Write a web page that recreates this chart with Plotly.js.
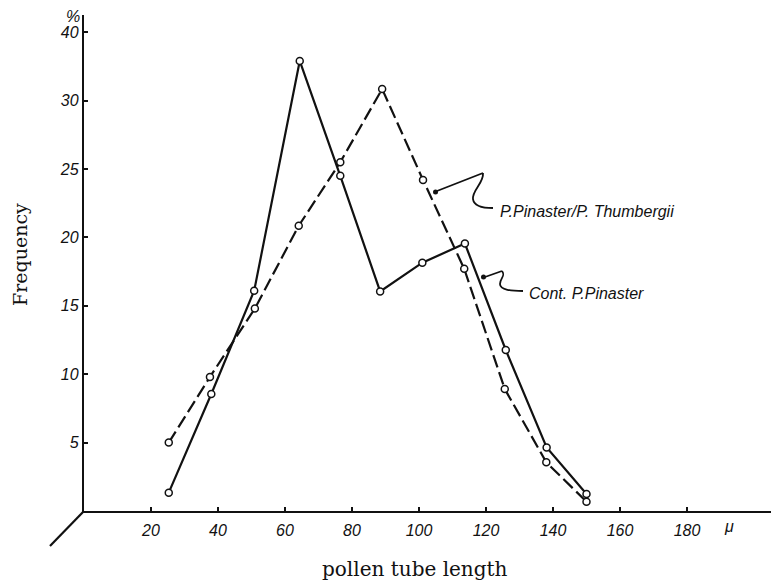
<!DOCTYPE html>
<html>
<head>
<meta charset="utf-8">
<script src="https://cdn.plot.ly/plotly-3.0.1.min.js"></script>
<style>
html,body{margin:0;padding:0;background:#fff;}
#chart{width:771px;height:582px;}
</style>
</head>
<body>
<div id="chart"></div>
<script>
// ---- data ----
const contX = [25.3, 38, 50.8, 64.4, 76.5, 88.4, 101, 113.7, 125.9, 138.1, 150.0];
const contY = [1.34, 8.55, 16.1, 32.9, 24.5, 16.05, 18.15, 19.55, 11.77, 4.65, 1.24];
const hybX  = [25.3, 37.6, 51, 64.1, 76.5, 89.0, 101.2, 113.5, 125.6, 138, 150.0];
const hybY  = [5.0, 9.8, 14.8, 20.85, 25.5, 30.85, 24.2, 17.7, 8.92, 3.56, 0.68];
const xTickVals = [20, 40, 60, 80, 100, 120, 140, 160, 180];
const xTickText = ['20', '40', '60', '80', '100', '120', '140', '160', '180'];
const yTickVals = [5, 10, 15, 20, 25, 30, 35];
const yTickText = ['5', '10', '15', '20', '25', '30', '40'];
const contName = 'Cont. P.Pinaster';
const hybName = 'P.Pinaster/P. Thumbergii';
const xTitle = 'pollen tube length';
const yTitle = 'Frequency';

// ---- layout geometry (pixels) ----
const W = 771, H = 582;
const L = 84, R = 0, T = 15, B = 71;
const PW = W - L - R, PH = H - T - B;
const px = x => (x - L) / PW;          // pixel x -> paper
const py = y => (H - B - y) / PH;      // pixel y -> paper
const path = pts => pts.map((p, i) => (i === 0 ? 'M' : 'L') + px(p[0]).toFixed(4) + ',' + py(p[1]).toFixed(4)).join(' ');
const curve = (start, segs) => {
  let s = 'M' + px(start[0]).toFixed(4) + ',' + py(start[1]).toFixed(4);
  segs.forEach(c => {
    s += ' C' + c.map(p => px(p[0]).toFixed(4) + ',' + py(p[1]).toFixed(4)).join(' ');
  });
  return s;
};

const tickFont = {family: 'Liberation Sans Narrow, Liberation Sans, sans-serif', size: 16, color: '#111', style: 'italic'};
const noteFont = {family: 'Liberation Sans Narrow, Liberation Sans, sans-serif', size: 16, color: '#111', style: 'italic'};
const titleFamily = 'DejaVu Serif, Liberation Serif, serif';

const marker = {symbol: 'circle', size: 7, color: '#fff', line: {color: '#111', width: 1.5}};

const traces = [
  {
    x: contX, y: contY, name: contName, type: 'scatter', mode: 'lines+markers',
    line: {color: '#111', width: 2.2}, marker: marker, cliponaxis: false
  },
  {
    x: hybX, y: hybY, name: hybName, type: 'scatter', mode: 'lines+markers',
    line: {color: '#111', width: 2.2, dash: '13px,5px'}, marker: marker, cliponaxis: false
  }
];

const shapes = [
  // perspective stub of the axes
  {type: 'path', xref: 'paper', yref: 'paper', path: path([[84, 511], [50, 546]]),
   line: {color: '#111', width: 2.2}},
  // leader for hybrid
  {type: 'path', xref: 'paper', yref: 'paper',
   path: curve([493, 208], [[[484, 208], [474, 206], [473, 199]], [[472, 190], [484, 183], [483, 173]]]) + ' ' + path([[483, 173], [437, 191]]),
   line: {color: '#111', width: 1.8}},
  {type: 'circle', xref: 'paper', yref: 'paper', x0: px(433), x1: px(438), y0: py(194.5), y1: py(189.5),
   fillcolor: '#111', line: {color: '#111', width: 0}},
  // leader for control
  {type: 'path', xref: 'paper', yref: 'paper',
   path: curve([523, 291], [[[512, 291], [500, 290], [500, 284]], [[500, 278], [506, 276], [502, 271]]]) + ' ' + path([[502, 271], [485, 277]]),
   line: {color: '#111', width: 1.8}},
  {type: 'circle', xref: 'paper', yref: 'paper', x0: px(481), x1: px(486), y0: py(279.5), y1: py(274.5),
   fillcolor: '#111', line: {color: '#111', width: 0}}
];

const annotations = [
  {xref: 'paper', yref: 'paper', x: px(498), y: py(211), xanchor: 'left', yanchor: 'middle',
   text: hybName, showarrow: false, font: noteFont},
  {xref: 'paper', yref: 'paper', x: px(527), y: py(293), xanchor: 'left', yanchor: 'middle',
   text: contName, showarrow: false, font: noteFont},
  {xref: 'paper', yref: 'paper', x: px(729), y: py(526), xanchor: 'center', yanchor: 'middle',
   text: 'μ', showarrow: false, font: noteFont},
  {xref: 'paper', yref: 'paper', x: px(73), y: py(16), xanchor: 'center', yanchor: 'middle',
   text: '%', showarrow: false, font: {family: tickFont.family, size: 16, color: '#111', style: 'italic'}},
  // axis titles
  {xref: 'paper', yref: 'paper', x: px(415), y: py(569), xanchor: 'center', yanchor: 'middle',
   text: xTitle, showarrow: false, font: {family: titleFamily, size: 20, color: '#111'}},
  {xref: 'paper', yref: 'paper', x: px(20), y: py(255), xanchor: 'center', yanchor: 'middle',
   text: yTitle, textangle: -90, showarrow: false, font: {family: titleFamily, size: 19, color: '#111'}}
];

const layout = {
  width: W, height: H,
  margin: {l: L, r: R, t: T, b: B, pad: 0},
  paper_bgcolor: '#fff', plot_bgcolor: '#fff',
  showlegend: false,
  xaxis: {
    range: [0, PW / 3.35], autorange: false,
    showgrid: false, zeroline: false,
    showline: true, linecolor: '#111', linewidth: 2.2,
    ticks: 'inside', ticklen: 4, tickwidth: 2, tickcolor: '#111',
    tickvals: xTickVals, ticktext: xTickText, tickfont: tickFont,
    ticklabelstandoff: 4,
    automargin: false
  },
  yaxis: {
    range: [0, PH / 13.68], autorange: false,
    showgrid: false, zeroline: false,
    showline: true, linecolor: '#111', linewidth: 2.2,
    ticks: 'inside', ticklen: 4, tickwidth: 2, tickcolor: '#111',
    tickvals: yTickVals, ticktext: yTickText, tickfont: tickFont,
    ticklabelstandoff: 0,
    automargin: false
  },
  shapes: shapes,
  annotations: annotations
};

Plotly.newPlot('chart', traces, layout, {displayModeBar: false, staticPlot: true});
</script>
</body>
</html>
